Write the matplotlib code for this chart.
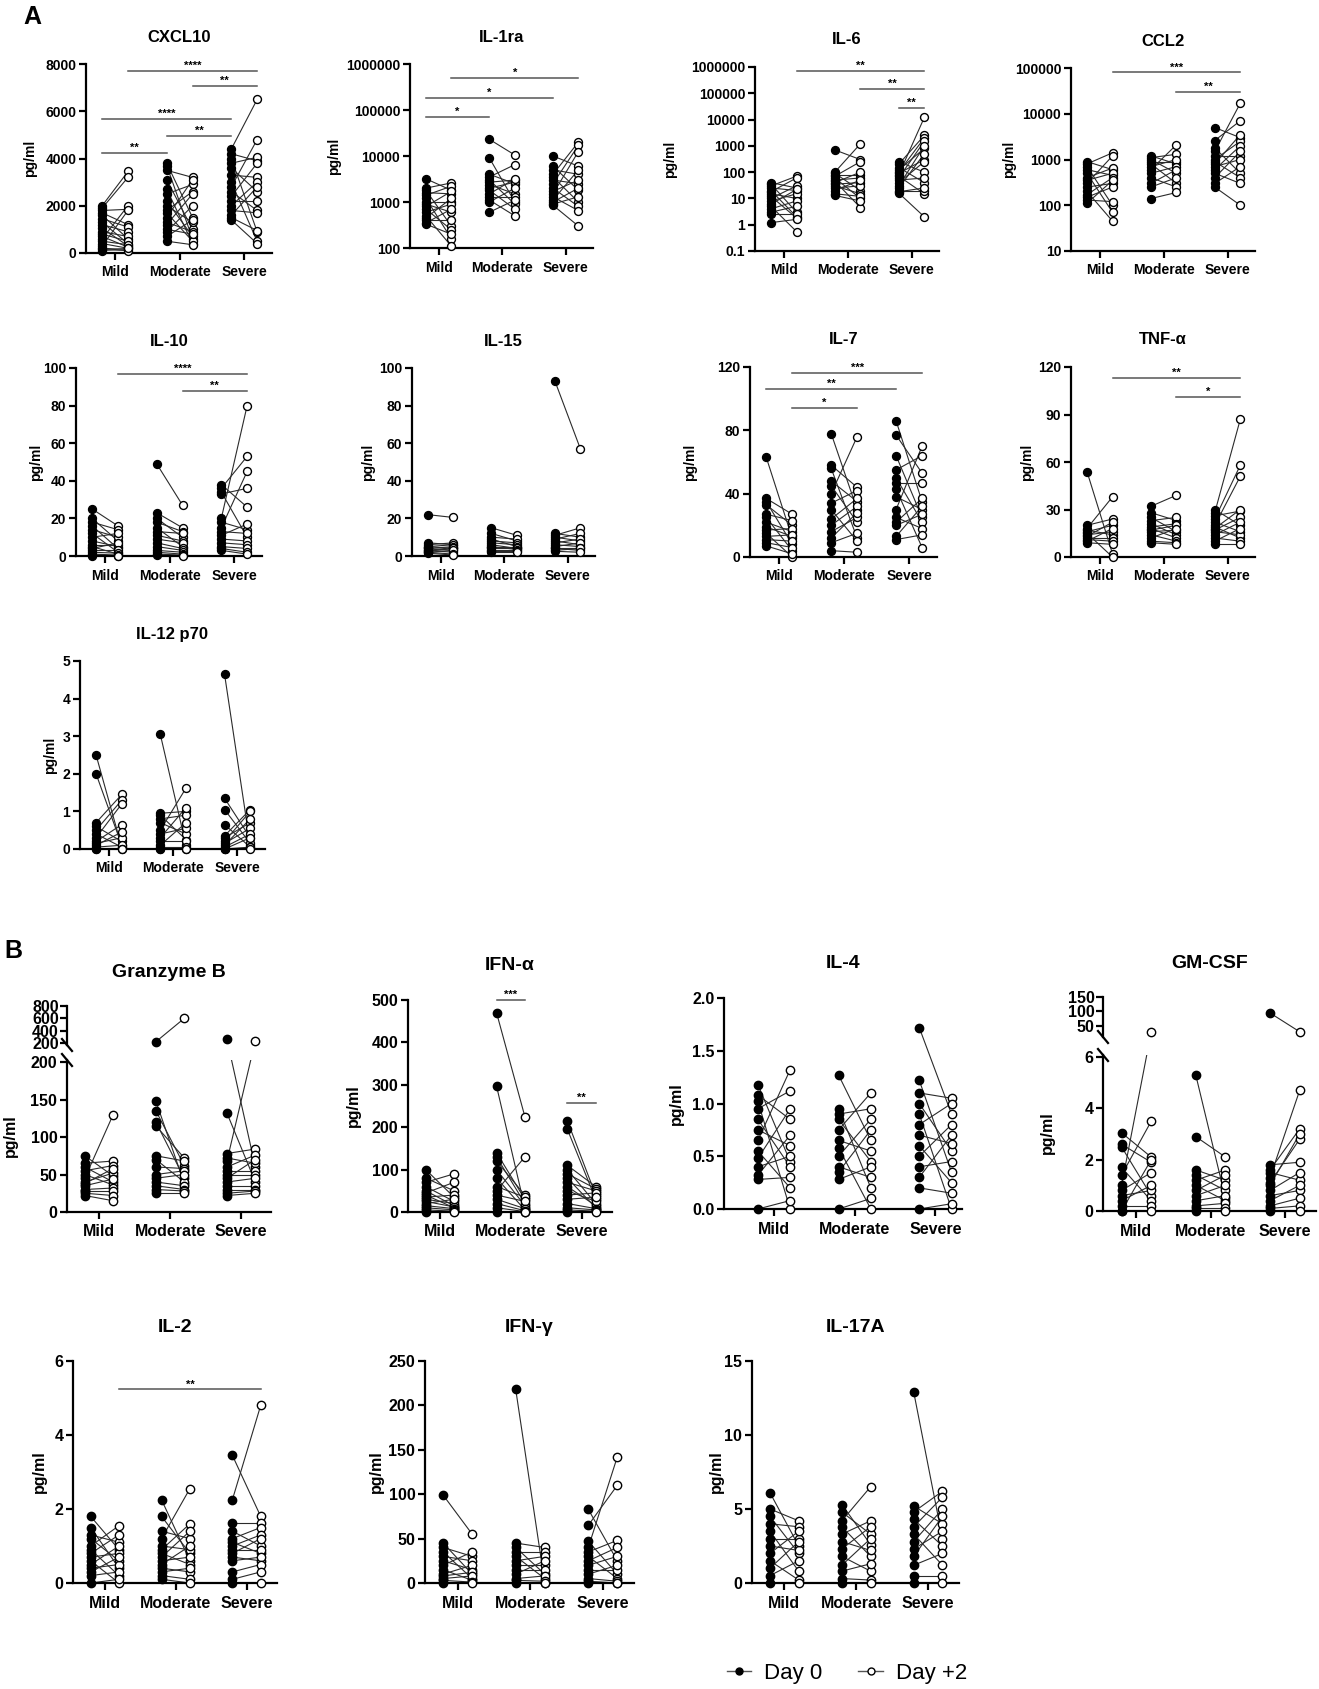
import matplotlib
matplotlib.use('Agg')
import matplotlib.pyplot as plt
from matplotlib.lines import Line2D
from matplotlib.ticker import NullLocator, FuncFormatter, FormatStrFormatter

plt.rcParams['font.family'] = ['Liberation Sans', 'DejaVu Sans']
plt.rcParams['font.weight'] = 'bold'
plt.rcParams['axes.labelweight'] = 'bold'

GROUPS = ['Mild', 'Moderate', 'Severe']

# ---- data (pg/ml), each list: [Mild, Moderate, Severe]; index i of Day0 pairs with index i of Day+2
CXCL10_D0 = [[2000, 1900, 1800, 1700, 1600, 1450, 1300, 1200, 1050, 900, 800, 700, 600, 500, 400, 300, 200, 150, 100],
             [3800, 3700, 3500, 3100, 2700, 2500, 2200, 2000, 1800, 1700, 1500, 1300, 1200, 1000, 900, 700, 500],
             [4400, 4200, 4000, 3800, 3600, 3300, 3000, 2800, 2600, 2400, 2200, 2000, 1800, 1600, 1500, 1400]]
CXCL10_D2 = [[3450, 3200, 1850, 1200, 600, 1100, 400, 900, 300, 700, 500, 250, 2000, 350, 200, 1800, 150, 100, 200],
             [1500, 600, 3200, 1000, 400, 2900, 700, 1300, 2600, 500, 3100, 900, 2500, 800, 2000, 1400, 350],
             [6500, 3900, 900, 4050, 2600, 3200, 500, 4800, 1800, 3800, 2200, 3000, 1700, 2800, 950, 400]]

IL1RA_D0 = [[3200, 2000, 1800, 1600, 1400, 1200, 1000, 900, 800, 700, 600, 500, 450, 400, 350, 330],
            [23000, 9000, 4000, 3500, 3000, 2700, 2400, 2000, 1800, 1500, 1300, 1100, 1000, 600],
            [10000, 6000, 5000, 4000, 3500, 3000, 2500, 2000, 1700, 1500, 1300, 1100, 1000, 900, 850]]
IL1RA_D2 = [[1800, 2600, 300, 1500, 2200, 160, 1000, 600, 1700, 250, 900, 110, 1200, 400, 700, 200],
            [10500, 1000, 2500, 6500, 900, 3000, 1500, 2700, 700, 3200, 1300, 500, 2000, 1100],
            [6000, 1800, 4000, 20000, 1000, 2500, 17000, 800, 3000, 12500, 650, 5000, 2000, 1300, 300]]

IL6_D0 = [[40, 35, 30, 25, 20, 18, 15, 12, 10, 8, 6, 5, 4, 3, 2.5, 1.2],
          [700, 100, 90, 80, 70, 60, 50, 45, 40, 35, 30, 25, 20, 15, 13],
          [250, 200, 150, 120, 100, 90, 80, 70, 60, 50, 40, 30, 25, 20, 18, 16]]
IL6_D2 = [[25, 3, 70, 20, 2, 60, 10, 1.8, 30, 15, 22, 0.55, 8, 5, 2.5, 1.6],
          [300, 1200, 20, 80, 250, 10, 60, 4.5, 100, 40, 15, 30, 50, 12, 8],
          [100, 2500, 40, 800, 2000, 300, 12000, 15, 1500, 60, 250, 1000, 500, 20, 25, 2]]

CCL2_D0 = [[900, 800, 700, 600, 500, 400, 350, 300, 250, 200, 170, 150, 130, 110],
           [1200, 1100, 1000, 900, 800, 700, 600, 500, 400, 300, 250, 140],
           [5000, 2600, 1800, 1500, 1200, 1000, 900, 800, 700, 600, 500, 400, 300, 250]]
CCL2_D2 = [[600, 1400, 100, 450, 70, 650, 500, 1200, 300, 45, 400, 250, 120, 350],
           [800, 1300, 500, 900, 300, 1000, 2100, 700, 250, 600, 400, 190],
           [3000, 7000, 500, 17000, 1200, 2500, 400, 3500, 1000, 2000, 300, 1500, 700, 100]]

IL10_D0 = [[25, 20, 18, 16, 14, 12, 10, 8, 6, 5, 4, 3, 2, 1, 0.5, 0],
           [49, 23, 20, 18, 15, 13, 11, 9, 7, 5, 3, 2, 1, 0.5],
           [38, 36, 34, 33, 20, 18, 15, 13, 11, 9, 7, 5, 4, 3]]
IL10_D2 = [[16, 8, 14, 4, 10, 2, 12, 5, 6, 1, 7, 3, 1.5, 0.5, 0, 0],
           [27, 15, 10, 13, 5, 12, 8, 7, 4, 3, 2, 1, 0.5, 0],
           [26, 53, 10, 36, 80, 14, 45, 12, 17, 8, 6, 4, 2, 1]]

IL15_D0 = [[22, 7, 6, 5, 5, 4, 4, 3, 3, 2.5, 2, 2, 1.5],
           [15, 12, 10, 9, 8, 7, 6, 5, 5, 4, 3, 2.5, 2],
           [93, 12, 11, 10, 9, 8, 7, 6, 5, 4.5, 4, 3, 2.5]]
IL15_D2 = [[20.5, 6, 7, 4, 6, 5, 3, 4.5, 2, 4, 3, 1, 0.5],
           [11, 8, 9, 5, 7, 6, 4, 5, 3.5, 4, 3, 2.5, 2],
           [57, 10, 15, 8, 12, 6, 9, 5, 7, 4.5, 3, 4, 2]]

IL7_D0 = [[63, 37, 35, 33, 27, 25, 22, 19, 17, 15, 13, 11, 9, 7],
          [78, 58, 56, 48, 45, 40, 34, 30, 24, 20, 16, 12, 9, 4],
          [86, 77, 64, 55, 50, 47, 43, 38, 30, 25, 22, 20, 13, 11]]
IL7_D2 = [[12, 27, 8, 20, 23, 4, 16, 13, 18, 0, 14, 10, 6, 2],
          [30, 44, 12, 35, 22, 76, 42, 10, 37, 32, 25, 28, 15, 3],
          [35, 53, 25, 64, 22, 47, 6, 30, 70, 18, 37, 27, 32, 14]]

TNFA_D0 = [[54, 20, 18, 17, 16, 15, 14, 13, 12, 11, 10, 9],
           [32, 28, 25, 23, 21, 19, 18, 17, 16, 14, 12, 10, 9],
           [30, 28, 26, 24, 22, 20, 19, 18, 17, 16, 14, 12, 10, 8]]
TNFA_D2 = [[2, 24, 38, 14, 20, 0, 16, 22, 12, 10, 18, 8],
           [39, 23, 16, 25, 14, 21, 12, 20, 17, 10, 18, 9, 8],
           [20, 87, 29, 58, 16, 51, 12, 30, 25, 14, 22, 10, 18, 8]]

IL12_D0 = [[2.5, 2.0, 0.7, 0.6, 0.5, 0.4, 0.3, 0.2, 0.15, 0.1, 0.05, 0, 0],
           [3.05, 0.95, 0.9, 0.8, 0.7, 0.5, 0.4, 0.3, 0.2, 0.1, 0.05, 0, 0],
           [4.65, 1.35, 1.05, 0.65, 0.35, 0.3, 0.2, 0.15, 0.1, 0.05, 0, 0, 0]]
IL12_D2 = [[0.05, 0.1, 1.45, 0.2, 1.3, 0.05, 1.2, 0.65, 0.3, 0.45, 0.1, 0, 0],
           [0.1, 1.0, 0.25, 0.9, 0.4, 1.62, 0.55, 1.1, 0.2, 0.7, 0.05, 0, 0],
           [0.1, 0.3, 0.15, 0.05, 1.05, 0.7, 1.0, 0.55, 0.8, 0.4, 0.3, 0.05, 0]]

GZMB_D0 = [[75, 65, 60, 55, 50, 45, 40, 38, 35, 30, 28, 25, 22],
           [220, 148, 135, 120, 115, 75, 70, 60, 50, 45, 40, 35, 30, 25],
           [260, 132, 78, 72, 68, 60, 55, 50, 45, 40, 35, 30, 25, 22]]
GZMB_D2 = [[48, 68, 40, 62, 36, 130, 52, 58, 44, 32, 28, 22, 15],
           [600, 38, 62, 45, 72, 68, 40, 58, 55, 50, 35, 30, 28, 25],
           [60, 40, 84, 65, 240, 76, 55, 50, 70, 45, 35, 30, 28, 25]]

IFNA_D0 = [[100, 80, 70, 60, 50, 45, 40, 35, 30, 25, 20, 15, 10, 5, 0],
           [470, 297, 140, 130, 120, 100, 80, 60, 50, 40, 30, 20, 10, 0],
           [215, 195, 110, 100, 90, 80, 70, 60, 50, 40, 30, 20, 10, 5, 0]]
IFNA_D2 = [[35, 50, 90, 25, 15, 70, 10, 40, 20, 12, 30, 8, 5, 2, 0],
           [225, 10, 30, 20, 40, 15, 5, 35, 130, 25, 8, 3, 1, 0],
           [40, 30, 60, 20, 55, 10, 50, 15, 25, 45, 35, 8, 5, 2, 0]]

IL4_D0 = [[1.18, 1.08, 1.02, 0.95, 0.85, 0.75, 0.65, 0.55, 0.48, 0.40, 0.32, 0.28, 0.0],
          [1.27, 0.95, 0.90, 0.85, 0.75, 0.65, 0.58, 0.50, 0.40, 0.35, 0.28, 0.0],
          [1.72, 1.22, 1.10, 1.00, 0.90, 0.80, 0.70, 0.60, 0.50, 0.40, 0.30, 0.20, 0.0]]
IL4_D2 = [[0.45, 0.85, 0.0, 1.12, 0.40, 0.60, 1.32, 0.20, 0.95, 0.50, 0.70, 0.30, 0.08],
          [0.65, 0.20, 0.95, 0.45, 1.10, 0.55, 0.0, 0.85, 0.30, 0.75, 0.40, 0.10],
          [0.90, 0.35, 1.05, 0.55, 0.0, 1.00, 0.62, 0.25, 0.80, 0.45, 0.70, 0.15, 0.05]]

GMCSF_D0 = [[3.05, 2.6, 2.5, 1.7, 1.4, 1.0, 0.8, 0.6, 0.4, 0.2, 0.0, 0.0],
            [5.3, 2.9, 1.6, 1.4, 1.2, 1.0, 0.8, 0.6, 0.4, 0.2, 0.1, 0.0],
            [95, 1.8, 1.6, 1.5, 1.3, 1.1, 1.0, 0.8, 0.6, 0.4, 0.2, 0.1, 0.0]]
GMCSF_D2 = [[2.1, 1.9, 0.6, 0.4, 3.5, 30, 1.5, 0.8, 1.0, 0.2, 2.0, 0.0],
            [0.5, 2.1, 1.2, 0.8, 1.6, 0.4, 1.4, 1.0, 0.6, 0.3, 0.1, 0.0],
            [30, 1.9, 3.2, 1.2, 4.7, 2.8, 3.0, 1.5, 0.8, 1.0, 0.5, 0.2, 0.0]]

IL2_D0 = [[1.8, 1.5, 1.3, 1.2, 1.0, 0.9, 0.8, 0.7, 0.6, 0.5, 0.4, 0.3, 0.2, 0.0],
          [2.25, 1.8, 1.4, 1.2, 1.0, 0.9, 0.8, 0.7, 0.6, 0.5, 0.4, 0.3, 0.2, 0.1],
          [3.45, 2.25, 1.62, 1.4, 1.2, 1.1, 1.0, 0.9, 0.8, 0.7, 0.6, 0.3, 0.1, 0.0]]
IL2_D2 = [[0.9, 0.4, 1.1, 0.6, 1.55, 0.2, 1.3, 0.8, 0.0, 1.0, 0.5, 0.7, 0.3, 0.1],
          [0.6, 0.8, 1.2, 2.55, 0.9, 1.6, 0.5, 1.4, 0.7, 1.0, 0.3, 0.4, 0.1, 0.0],
          [1.8, 4.8, 1.62, 1.0, 1.5, 0.8, 1.3, 0.9, 1.2, 0.6, 0.7, 0.5, 0.3, 0.0]]

IFNG_D0 = [[99, 45, 40, 35, 30, 25, 20, 15, 10, 8, 5, 3, 0],
           [218, 45, 40, 35, 30, 25, 20, 15, 10, 5, 3, 0],
           [83, 65, 47, 40, 35, 30, 25, 20, 15, 10, 5, 2, 0]]
IFNG_D2 = [[55, 10, 30, 5, 25, 15, 35, 3, 20, 12, 8, 1, 0],
           [0, 40, 10, 35, 5, 30, 20, 15, 25, 8, 2, 0],
           [25, 110, 10, 142, 48, 5, 40, 30, 15, 20, 2, 0, 0]]

IL17A_D0 = [[6.1, 5.0, 4.5, 4.0, 3.5, 3.0, 2.5, 2.0, 1.5, 1.0, 0.5, 0.0],
            [5.3, 4.8, 4.2, 3.8, 3.3, 2.8, 2.3, 1.8, 1.2, 0.8, 0.3, 0.0],
            [12.9, 5.2, 4.8, 4.3, 3.8, 3.3, 2.8, 2.3, 1.8, 1.2, 0.5, 0.0]]
IL17A_D2 = [[2.5, 4.2, 2.0, 3.8, 0.8, 3.0, 2.2, 3.5, 0.2, 2.8, 1.5, 0.0],
            [2.6, 3.3, 6.5, 1.8, 4.2, 2.2, 3.8, 0.8, 3.0, 1.3, 0.2, 0.0],
            [3.0, 4.0, 6.2, 2.5, 5.8, 1.2, 5.0, 3.5, 4.5, 2.0, 0.5, 0.0]]

# significance bars: (slot from, slot to, y, label); slots 0..5 = Mild D0, Mild D2, Mod D0, Mod D2, Sev D0, Sev D2
CXCL10_SIG = [(1, 5, 7700, '****'), (3, 5, 7070, '**'), (0, 4, 5670, '****'), (2, 4, 4950, '**'), (0, 2, 4230, '**')]
IL1RA_SIG = [(0, 2, 7e4, '*'), (0, 4, 1.8e5, '*'), (1, 5, 5e5, '*')]
IL6_SIG = [(1, 5, 7e5, '**'), (3, 5, 1.5e5, '**'), (4, 5, 2.8e4, '**')]
CCL2_SIG = [(1, 5, 8e4, '***'), (3, 5, 3e4, '**')]
IL10_SIG = [(1, 5, 97, '****'), (3, 5, 88, '**')]
IL7_SIG = [(1, 5, 116, '***'), (0, 4, 106, '**'), (1, 3, 94, '*')]
TNFA_SIG = [(1, 5, 113, '**'), (3, 5, 101, '*')]
IFNA_SIG = [(2, 3, 500, '***'), (4, 5, 257, '**')]
IL2_SIG = [(1, 5, 5.23, '**')]

W, H = 1319, 1689
OFF = 0.2
fig = plt.figure(figsize=(W / 100, H / 100), dpi=100)


def make_ax(box):
    x0, y0, x1, y1 = box
    return fig.add_axes([x0 / W, 1 - y1 / H, (x1 - x0) / W, (y1 - y0) / H])


def slot_x(s):
    return s // 2 + (OFF if s % 2 else -OFF)


def log_fmt(v, pos):
    return '%g' % v if v < 1 else '%d' % round(v)


def draw_pairs(ax, d0, d2, ms, lo, hi, both_inside=False, remap=None):
    for g in range(3):
        for a, b in zip(d0[g], d2[g]):
            if both_inside and not (lo <= a <= hi and lo <= b <= hi):
                continue
            ya, yb = (remap(a), remap(b)) if remap else (a, b)
            ax.plot([g - OFF, g + OFF], [ya, yb], color='#2b2b2b', lw=0.8, zorder=2)
        for vals, x, face in ((d0[g], g - OFF, 'black'), (d2[g], g + OFF, 'white')):
            vals = [v for v in vals if lo <= v <= hi]
            ax.plot([x] * len(vals), vals, 'o', ms=ms, mfc=face, mec='black',
                    mew=1.0, zorder=3, clip_on=False)


def style(ax, fs, xlim):
    ax.spines['top'].set_visible(False)
    ax.spines['right'].set_visible(False)
    ax.spines['left'].set_linewidth(1.6)
    ax.spines['bottom'].set_linewidth(1.6)
    ax.set_xlim(*xlim)
    ax.set_xticks(range(3))
    ax.set_xticklabels(GROUPS)
    ax.tick_params(axis='both', width=1.6, length=5, labelsize=fs, pad=2)
    ax.tick_params(axis='x', pad=4)


def add_title(box, text, big):
    x0, y0, x1, y1 = box
    fig.text((x0 + x1) / 2 / W, 1 - (y0 - (34 if big else 27)) / H, text,
             ha='center', va='center', fontsize=14 if big else 12)


def set_ylab(ax, box, dx, fs):
    ax.set_ylabel('pg/ml', fontsize=fs, va='center', fontweight='bold')
    ax.yaxis.set_label_coords(-dx / (box[2] - box[0]), 0.5)


def panel(title, d0, d2, box, ylim, yticks, dx, big=False, log=False, sig=(),
          xlim=(-0.45, 2.43), fmt=None):
    fs = 11.5 if big else 10
    ax = make_ax(box)
    if log:
        ax.set_yscale('log')
    draw_pairs(ax, d0, d2, 6 if big else 5.7, ylim[0], ylim[1])
    ax.set_ylim(*ylim)
    ax.set_yticks(yticks)
    if log:
        ax.yaxis.set_minor_locator(NullLocator())
        ax.yaxis.set_major_formatter(FuncFormatter(log_fmt))
    elif fmt:
        ax.yaxis.set_major_formatter(FormatStrFormatter(fmt))
    style(ax, fs, xlim)
    set_ylab(ax, box, dx, fs)
    for a, b, y, stars in sig:
        xa, xb = slot_x(a), slot_x(b)
        ax.plot([xa, xb], [y, y], color='#555555', lw=1.1, clip_on=False, zorder=1)
        ax.annotate(stars, xy=((xa + xb) / 2, y), xytext=(0, 0), textcoords='offset points',
                    ha='center', va='bottom', fontsize=8, annotation_clip=False)
    add_title(box, title, big)
    return ax


def broken_panel(title, d0, d2, box_hi, box_lo, lim_hi, lim_lo, ticks_hi, ticks_lo, dx):
    fs = 11.5
    ax_hi = make_ax(box_hi)
    ax_lo = make_ax(box_lo)
    # px per unit in each segment, so connecting lines follow one continuous broken scale
    ppu_hi = (box_hi[3] - box_hi[1]) / (lim_hi[1] - lim_hi[0])
    ppu_lo = (box_lo[3] - box_lo[1]) / (lim_lo[1] - lim_lo[0])
    gap = box_lo[1] - box_hi[3]

    def remap(v):
        if v <= lim_lo[1]:
            return v
        return lim_lo[1] + (gap + (v - lim_hi[0]) * ppu_hi) / ppu_lo

    draw_pairs(ax_hi, d0, d2, 6, lim_hi[0], lim_hi[1], both_inside=True)
    draw_pairs(ax_lo, d0, d2, 6, lim_lo[0], lim_lo[1], remap=remap)
    for ax, lim, ticks in ((ax_hi, lim_hi, ticks_hi), (ax_lo, lim_lo, ticks_lo)):
        ax.set_ylim(*lim)
        ax.set_yticks(ticks)
        style(ax, fs, (-0.45, 2.42))
    ax_hi.spines['bottom'].set_visible(False)
    ax_hi.tick_params(axis='x', bottom=False, labelbottom=False)
    ax_hi.tick_params(axis='y', pad=1)
    set_ylab(ax_lo, box_lo, dx, fs)
    # break marks on the left spine
    x = box_lo[0]
    for yb in (box_hi[3], box_lo[1]):
        fig.add_artist(Line2D([(x - 5) / W, (x + 5) / W], [1 - (yb - 6) / H, 1 - (yb + 6) / H],
                              color='black', lw=1.6))
    add_title((box_lo[0], box_hi[1], box_lo[2], box_lo[3]), title, True)


# ---- panel A
panel('CXCL10', CXCL10_D0, CXCL10_D2, (86, 64, 272, 253), (0, 8000), range(0, 8001, 2000), 56, sig=CXCL10_SIG)
panel('IL-1ra', IL1RA_D0, IL1RA_D2, (410, 64, 593, 248), (100, 1e6), [1e2, 1e3, 1e4, 1e5, 1e6], 76, log=True, sig=IL1RA_SIG)
panel('IL-6', IL6_D0, IL6_D2, (755, 67, 939, 251), (0.1, 1e6), [0.1, 1, 10, 1e2, 1e3, 1e4, 1e5, 1e6], 85, log=True, sig=IL6_SIG)
panel('CCL2', CCL2_D0, CCL2_D2, (1071, 68, 1255, 251), (10, 1e5), [10, 1e2, 1e3, 1e4, 1e5], 62, log=True, sig=CCL2_SIG)

panel('IL-10', IL10_D0, IL10_D2, (76, 368, 262, 556), (0, 100), range(0, 101, 20), 40, sig=IL10_SIG)
panel('IL-15', IL15_D0, IL15_D2, (412, 368, 595, 556), (0, 100), range(0, 101, 20), 44)
panel('IL-7', IL7_D0, IL7_D2, (750, 367, 937, 557), (0, 120), range(0, 121, 40), 60, sig=IL7_SIG)
panel('TNF-α', TNFA_D0, TNFA_D2, (1071, 367, 1255, 557), (0, 120), range(0, 121, 30), 44, sig=TNFA_SIG)

panel('IL-12 p70', IL12_D0, IL12_D2, (80, 661, 265, 849), (0, 5), range(0, 6), 30)

# ---- panel B
broken_panel('Granzyme B', GZMB_D0, GZMB_D2, (67, 1006, 271, 1045), (67, 1060, 271, 1212),
             (168, 800), (0, 202.7), [200, 400, 600, 800], [0, 50, 100, 150, 200], 57)
panel('IFN-α', IFNA_D0, IFNA_D2, (408, 1000, 612, 1212), (0, 500), range(0, 501, 100), 55, big=True, sig=IFNA_SIG)
panel('IL-4', IL4_D0, IL4_D2, (724, 998, 962, 1209), (0, 2.0), [0, 0.5, 1.0, 1.5, 2.0], 48, big=True,
      xlim=(-0.62, 2.33), fmt='%.1f')
broken_panel('GM-CSF', GMCSF_D0, GMCSF_D2, (1103, 997, 1316, 1037), (1103, 1055, 1316, 1211),
             (12, 150), (0, 6.08), [50, 100, 150], [0, 2, 4, 6], 56)

panel('IL-2', IL2_D0, IL2_D2, (73, 1361, 277, 1583), (0, 6), range(0, 7, 2), 34, big=True, sig=IL2_SIG)
panel('IFN-γ', IFNG_D0, IFNG_D2, (425, 1361, 634, 1583), (0, 250), range(0, 251, 50), 49, big=True)
panel('IL-17A', IL17A_D0, IL17A_D2, (752, 1361, 959, 1583), (0, 15), range(0, 16, 5), 36, big=True)

fig.text(32 / W, 1 - 17 / H, 'A', ha='center', va='center', fontsize=18)
fig.text(13 / W, 1 - 951 / H, 'B', ha='center', va='center', fontsize=18)

handles = [Line2D([0], [0], color='#555555', lw=1, marker='o', ms=5, mfc='black', mec='black'),
           Line2D([0], [0], color='#555555', lw=1, marker='o', ms=5, mfc='white', mec='black')]
fig.legend(handles, ['Day 0', 'Day +2'], loc='center', bbox_to_anchor=(847 / W, 1 - 1673 / H),
           ncol=2, frameon=False, handlelength=1.1, handletextpad=0.6, columnspacing=1.6,
           prop={'size': 16, 'weight': 'normal'})

fig.savefig('out.png', dpi=100)
